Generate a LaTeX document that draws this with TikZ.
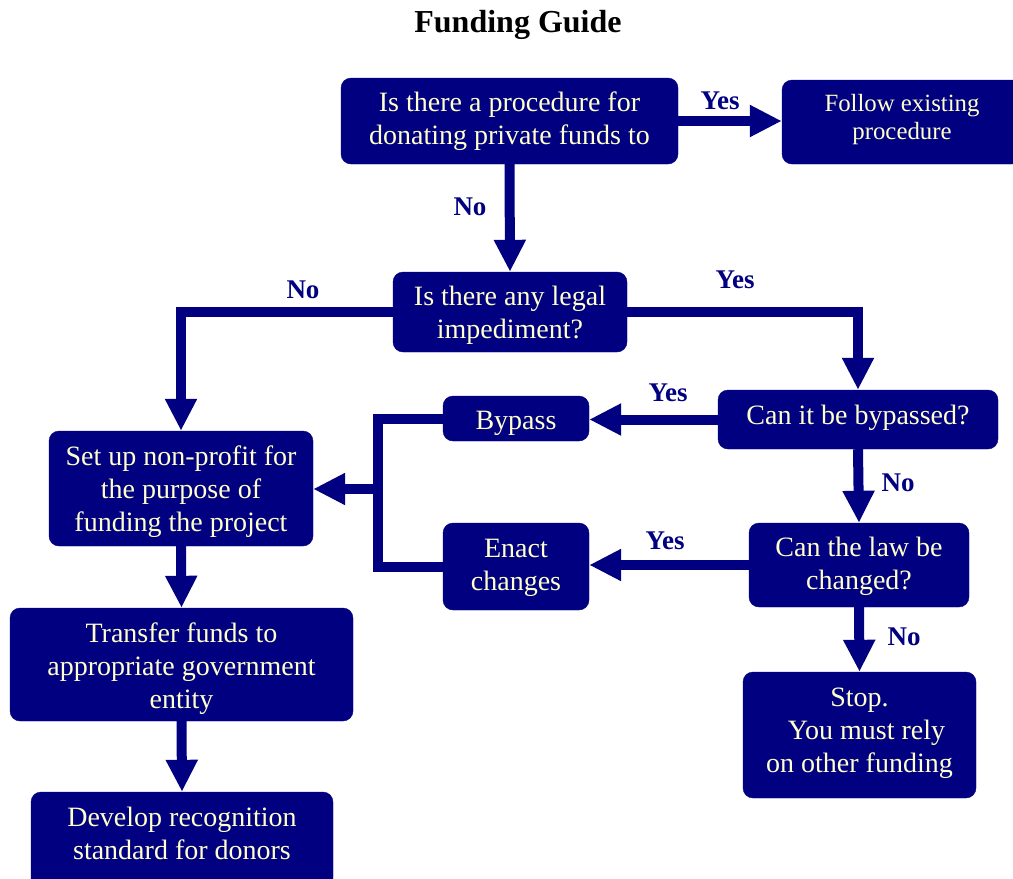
\documentclass[tikz,border=0pt]{standalone}
\usepackage{fontspec}
\setmainfont{Liberation Serif}
\usetikzlibrary{arrows.meta,calc}
\definecolor{navy}{HTML}{000080}
\definecolor{cream}{HTML}{FFFFCC}
\tikzset{
  box/.style={fill=navy, draw=navy, rounded corners=10pt, inner sep=0pt},
  boxtext/.style={text=cream, align=center, inner sep=0pt, font=\fontsize{28}{33}\selectfont},
  flow/.style={draw=navy, line width=10pt, -{Triangle[length=32pt,width=30pt]}},
  link/.style={draw=navy, line width=10pt},
  lbl/.style={text=navy, font=\fontsize{27}{30}\selectfont\bfseries, inner sep=0pt},
}
\begin{document}
\begin{tikzpicture}[x=1pt,y=-1pt]
\useasboundingbox (0,0) rectangle (1013,879);

\node[font=\fontsize{32}{36}\selectfont\bfseries, inner sep=0pt] (title) at (518,25) {Funding Guide};

% boxes
\node[box, minimum width=337pt, minimum height=86pt] (b1) at (509.5,121) {};
\node[box, minimum width=240pt, minimum height=84pt] (b2) at (902,122) {};
\node[box, minimum width=234pt, minimum height=80pt] (b3) at (510,312) {};
\node[box, minimum width=280pt, minimum height=59pt] (b4) at (858,419.5) {};
\node[box, minimum width=146pt, minimum height=45pt] (b5) at (516,418.5) {};
\node[box, minimum width=264pt, minimum height=115pt] (b6) at (181,488.5) {};
\node[box, minimum width=146pt, minimum height=87pt] (b7) at (516,566.5) {};
\node[box, minimum width=220pt, minimum height=84pt] (b8) at (859,565) {};
\node[box, minimum width=343pt, minimum height=113pt] (b9) at (181.5,664.5) {};
\node[box, minimum width=233pt, minimum height=126pt] (b10) at (859.5,735) {};
\node[box, minimum width=302pt, minimum height=96pt] (b11) at (182,840) {};

% texts
\node[boxtext] (t1) at (509.5,121) {Is there a procedure for\\donating private funds to};
\node[boxtext, font=\fontsize{24.8}{28}\selectfont] (t2) at (902,120) {Follow existing\\procedure};
\node[boxtext] (t3) at (510,315) {Is there any legal\\impediment?};
\node[boxtext] (t4) at (858,417.5) {Can it be bypassed?};
\node[boxtext] (t5) at (516,423) {Bypass};
\node[boxtext] (t6) at (181,491.5) {Set up non-profit for\\the purpose of\\funding the project};
\node[boxtext] (t7) at (516,567.5) {Enact\\changes};
\node[boxtext] (t8) at (859,566.5) {Can the law be\\changed?};
\node[boxtext] (t9) at (181.5,668.5) {Transfer funds to\\appropriate government\\entity};
\node[boxtext] (t10) at (859.5,733) {Stop.\\\hspace*{14pt}You must rely\\on other funding};
\node[boxtext] (t11) at (182,833.5) {Develop recognition\\standard for donors};

\coordinate (j) at (378,489);

\draw[flow] (b1.east) -- (b1.east -| b2.west);
\draw[flow] (b1.south) -- (b3.north);
\draw[flow] (b3.east) -| (b4.north);
\draw[flow] (b3.west) -| (b6.north);
\draw[flow] (b4.west) -- (b4.west -| b5.east);
\draw[flow] (b4.south) -- (b8.north);
\draw[flow] (b8.west) -- (b8.west -| b7.east);
\draw[flow] (b8.south) -- (b10.north);
\draw[link] (b5.west) -| (j) |- (b7.west);
\draw[flow] (j) -- (j -| b6.east);
\draw[flow] (b6.south) -- (b9.north);
\draw[flow] (b9.south) -- (b11.north);

\node[lbl] (l1) at (720,101) {Yes};
\node[lbl] (l2) at (470,207) {No};
\node[lbl] (l3) at (735,280) {Yes};
\node[lbl] (l4) at (303,290) {No};
\node[lbl] (l5) at (668,393) {Yes};
\node[lbl] (l6) at (898,483) {No};
\node[lbl] (l7) at (665,541) {Yes};
\node[lbl] (l8) at (904,637) {No};
\end{tikzpicture}
\end{document}
